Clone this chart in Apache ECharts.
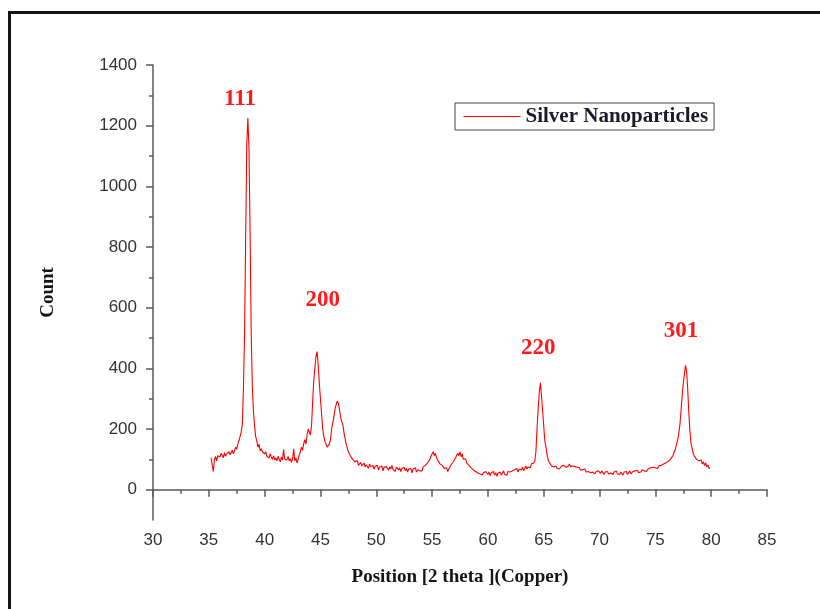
<!DOCTYPE html>
<html>
<head>
<meta charset="utf-8">
<script src="https://cdn.jsdelivr.net/npm/echarts@6/dist/echarts.min.js"></script>
<style>
  html, body { margin: 0; padding: 0; background: #fff; }
  #chart { width: 820px; height: 609px; }
  .frame {
    position: absolute; left: 8px; top: 11px; right: 0; bottom: 0;
    border-top: 3px solid #151515; border-left: 3px solid #151515;
    pointer-events: none;
  }
</style>
</head>
<body>
<div id="chart"></div>
<div class="frame"></div>
<script>
  const startAngle = 35.2;
  const stepAngle = 0.1;
  const counts = [
    105, 108, 60, 98, 110, 95, 112, 118,                 // 35.2 - 35.9
    108, 120, 115, 105, 122, 110, 118, 112, 125, 115,    // 36
    120, 130, 118, 128, 140, 133, 150, 162, 175, 190,    // 37
    215, 330, 510, 830, 1140, 1225, 1120, 840, 510, 340, // 38
    255, 210, 175, 160, 140, 150, 128, 135, 125, 130,    // 39
    118, 125, 110, 115, 105, 118, 108, 100, 112, 98,     // 40
    105, 95, 110, 100, 92, 108, 98, 132, 100, 105,       // 41
    98, 110, 95, 102, 90, 100, 135, 95, 105, 88,         // 42
    100, 115, 125, 140, 130, 152, 165, 150, 180, 200,    // 43
    190, 180, 210, 290, 360, 400, 440, 455, 410, 350,    // 44
    300, 250, 200, 175, 160, 150, 140, 145, 150, 165,    // 45
    200, 220, 240, 265, 280, 292, 285, 265, 240, 225,    // 46
    215, 190, 170, 150, 138, 125, 118, 110, 105, 100,    // 47
    95, 92, 88, 96, 80, 85, 90, 78, 82, 88,              // 48
    75, 82, 78, 70, 85, 76, 72, 80, 68, 78,              // 49
    72, 80, 65, 75, 70, 78, 62, 74, 68, 76,              // 50
    70, 64, 75, 68, 80, 66, 72, 60, 74, 68,              // 51
    65, 72, 60, 70, 66, 74, 62, 70, 58, 68,              // 52
    64, 70, 55, 68, 62, 72, 58, 66, 70, 62,              // 53
    68, 62, 75, 70, 80, 78, 88, 92, 100, 110,            // 54
    118, 125, 112, 120, 105, 98, 92, 85, 88, 80,         // 55
    75, 70, 64, 72, 60, 68, 75, 82, 88, 92,              // 56
    98, 105, 110, 120, 112, 125, 108, 118, 100, 95,      // 57
    102, 88, 92, 80, 76, 72, 68, 65, 70, 60,             // 58
    62, 55, 60, 52, 58, 48, 56, 50, 60, 54,              // 59
    50, 58, 46, 55, 52, 60, 48, 56, 44, 54,              // 60
    52, 58, 48, 55, 62, 50, 56, 48, 60, 54,              // 61
    58, 52, 62, 56, 66, 60, 70, 58, 68, 72,              // 62
    65, 74, 62, 70, 78, 68, 75, 80, 72, 85,              // 63
    80, 88, 95, 125, 200, 265, 320, 352, 310, 260,       // 64
    210, 160, 140, 115, 98, 90, 84, 78, 82, 75,          // 65
    72, 78, 70, 76, 68, 74, 78, 72, 80, 76,              // 66
    74, 80, 78, 85, 76, 82, 78, 72, 76, 70,              // 67
    74, 68, 72, 64, 70, 66, 62, 68, 58, 64,              // 68
    60, 66, 56, 62, 58, 64, 52, 60, 56, 62,              // 69
    58, 54, 62, 56, 50, 58, 54, 60, 52, 57,              // 70
    55, 60, 50, 58, 54, 62, 52, 56, 50, 58,              // 71
    54, 48, 58, 52, 60, 50, 56, 62, 52, 58,              // 72
    60, 55, 62, 58, 64, 56, 62, 58, 66, 60,              // 73
    62, 68, 60, 66, 70, 64, 72, 68, 74, 70,              // 74
    72, 76, 70, 78, 74, 80, 78, 84, 80, 88,              // 75
    85, 92, 90, 98, 100, 108, 115, 125, 135, 150,        // 76
    165, 185, 215, 260, 310, 350, 380, 410, 390, 330,    // 77
    250, 190, 150, 135, 118, 110, 112, 100, 105, 95,     // 78
    90, 98, 85, 92, 80, 88, 75, 82, 70, 72               // 79
  ];

  // peak annotations (Miller indices) and where their labels sit
  const peakNames = ['111', '200', '220', '301'];
  const peakLabelX = [37.8, 45.2, 64.5, 77.3];
  const peakLabelY = [1288, 624, 466, 522];

  const yMajorTicks = [0, 200, 400, 600, 800, 1000, 1200, 1400];
  const yMinorTicks = [100, 300, 500, 700, 900, 1100, 1300];

  const seriesData = counts.map((c, i) => [+(startAngle + i * stepAngle).toFixed(1), c]);

  const axisColor = '#5a5a5a';
  const labelFont = { color: '#333', fontSize: 17, fontFamily: 'Liberation Sans, Arial, sans-serif' };
  const nameFont = { color: '#151515', fontSize: 19, fontWeight: 'bold', fontFamily: 'Liberation Serif, Times New Roman, serif' };

  const chart = echarts.init(document.getElementById('chart'));

  const option = {
    animation: false,
    grid: { left: 153, right: 53, top: 65, bottom: 89 },
    legend: {
      left: 455,
      top: 103,
      data: ['Silver Nanoparticles'],
      borderColor: '#444',
      borderWidth: 1,
      padding: [3, 6, 3, 8],
      itemWidth: 57,
      itemHeight: 14,
      itemStyle: { opacity: 0 },
      lineStyle: { color: '#ff0000', width: 1 },
      textStyle: { color: '#1a1a2a', fontSize: 21, fontWeight: 'bold', fontFamily: 'Liberation Serif, serif' },
    },
    xAxis: {
      type: 'value',
      min: 30,
      max: 85,
      interval: 5,
      name: 'Position [2 theta ](Copper)',
      nameLocation: 'middle',
      nameGap: 48,
      nameTextStyle: nameFont,
      axisLine: { lineStyle: { color: axisColor, width: 1.5 } },
      axisTick: { length: 7, lineStyle: { color: axisColor, width: 1.5 } },
      minorTick: { show: true, splitNumber: 2, length: 4, lineStyle: { color: axisColor, width: 1.5 } },
      axisLabel: Object.assign({ margin: 12 }, labelFont),
      splitLine: { show: false },
    },
    yAxis: [
      {
        type: 'value',
        min: -100,
        max: 1400,
        name: 'Count',
        nameLocation: 'middle',
        nameGap: 95,
        nameRotate: 90,
        nameTextStyle: nameFont,
        axisLine: { show: true, lineStyle: { color: axisColor, width: 1.5 } },
        axisTick: { show: true, length: 7, customValues: yMajorTicks, lineStyle: { color: axisColor, width: 1.5 } },
        axisLabel: Object.assign({ margin: 16, customValues: yMajorTicks, formatter: (v) => String(v) }, labelFont),
        splitLine: { show: false },
      },
      {
        type: 'value',
        min: -100,
        max: 1400,
        position: 'left',
        axisLine: { show: false },
        axisTick: { show: true, length: 4, customValues: yMinorTicks, lineStyle: { color: axisColor, width: 1.5 } },
        axisLabel: { show: false },
        splitLine: { show: false },
      },
    ],
    series: [
      {
        name: 'Silver Nanoparticles',
        type: 'line',
        data: seriesData,
        symbol: 'none',
        lineStyle: { color: '#ff0000', width: 1.1 },
        itemStyle: { color: '#ff0000' },
        markPoint: {
          symbol: 'circle',
          symbolSize: 0,
          label: {
            show: true,
            position: 'inside',
            formatter: '{b}',
            color: '#ff1a1a',
            fontSize: 23,
            fontWeight: 'bold',
            fontFamily: 'Liberation Serif, Times New Roman, serif',
          },
          data: peakNames.map((n, i) => ({ name: n, coord: [peakLabelX[i], peakLabelY[i]] })),
        },
      },
    ],
  };

  chart.setOption(option);
</script>
</body>
</html>
